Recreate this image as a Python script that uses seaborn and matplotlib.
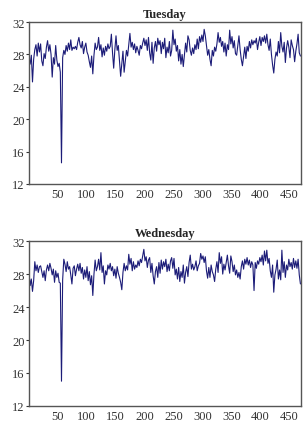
import numpy as np
import matplotlib
matplotlib.use("Agg")
import matplotlib.pyplot as plt
import seaborn as sns

obs_start = 1
obs_step = 2

tuesday = [
    27.6, 26.8, 27.9, 24.6, 27.4, 28.6, 29.2, 27.8, 29.4, 28.3,
    29.3, 27.2, 26.6, 28.1, 27.5, 28.9, 29.7, 28.4, 29.2, 28.0,
    25.2, 27.6, 26.8, 29.1, 27.3, 26.5, 26.9, 25.8, 14.6, 27.6,
    28.5, 28.0, 29.1, 28.4, 29.4, 28.6, 29.8, 28.5, 28.9, 28.7,
    29.0, 28.6, 29.5, 30.1, 29.2, 28.8, 29.6, 28.1, 28.9, 29.4,
    28.3, 27.9, 27.1, 26.4, 27.8, 25.6, 27.9, 29.4, 28.6, 28.9,
    30.1, 28.5, 29.2, 27.7, 28.8, 27.9, 29.0, 28.4, 29.3, 28.7,
    29.0, 30.5, 28.2, 26.3, 28.6, 30.3, 28.5, 29.1, 27.2, 25.3,
    26.9, 28.4, 25.8, 27.1, 28.5, 27.8, 29.2, 30.6, 28.9, 29.5,
    28.6, 29.3, 28.2, 29.0, 28.5, 27.9, 29.1, 28.7, 29.4, 30.0,
    29.1, 29.8, 28.5, 30.1, 28.2, 27.3, 29.5, 26.9, 28.8, 29.6,
    28.4, 30.0, 29.2, 29.7, 28.1, 29.5, 28.7, 30.0, 27.6, 28.9,
    28.2, 29.6, 27.8, 28.5, 31.0, 29.2, 29.9, 28.4, 29.1, 27.2,
    28.6, 26.8, 28.0, 26.5, 27.9, 29.4, 28.3, 30.3, 29.8, 28.5,
    27.9, 28.8, 28.1, 29.2, 28.6, 29.9, 28.7, 30.2, 29.5, 30.4,
    29.6, 31.1, 30.3, 29.1, 27.9, 28.6, 27.4, 26.6, 28.5, 27.8,
    28.9, 28.4, 29.3, 30.7, 29.5, 30.1, 29.0, 29.6, 28.3, 29.4,
    27.8, 29.2, 28.6, 31.0, 29.3, 30.2, 28.8, 29.7, 28.1, 27.9,
    29.1, 30.3, 28.6, 27.4, 26.6, 27.8, 28.9, 27.5, 29.0, 28.4,
    29.6, 28.8, 29.8, 29.2, 29.7, 29.4, 30.0, 28.6, 29.5, 30.2,
    29.1, 30.1, 29.6, 30.3, 29.4, 30.5, 29.2, 28.5, 29.9, 28.0,
    26.7, 25.7, 27.4, 28.3, 27.8, 29.6, 28.2, 30.7, 29.0, 28.3,
    29.5, 27.0, 28.8, 29.7, 28.9, 27.6, 29.8, 29.1, 28.6, 27.1,
    28.4, 29.3, 30.5, 28.2, 27.8,
]

wednesday = [
    28.1, 26.6, 27.4, 25.9, 27.2, 29.5, 28.4, 29.1, 28.2, 28.9,
    29.0, 28.3, 27.6, 28.4, 27.2, 28.5, 29.1, 28.4, 29.3, 28.7,
    27.9, 28.6, 27.0, 28.4, 27.6, 28.1, 27.0, 26.9, 15.0, 27.3,
    29.8, 29.2, 28.3, 29.5, 28.6, 28.9, 27.9, 26.8, 28.7, 29.0,
    27.8, 28.6, 29.2, 28.4, 29.3, 28.1, 28.8, 27.4, 28.5, 27.6,
    28.9, 27.2, 28.3, 26.7, 27.8, 25.4, 28.0, 29.7, 28.4, 28.9,
    29.8, 28.5, 30.6, 28.2, 29.0, 26.8, 28.4, 27.9, 29.1, 28.6,
    29.3, 28.4, 28.9, 27.8, 28.6, 27.5, 28.9, 28.1, 27.6, 27.0,
    26.1, 28.2, 29.3, 28.4, 29.0, 28.5, 30.4, 29.2, 29.9, 28.4,
    29.5, 28.6, 29.1, 28.8, 29.6, 29.0, 29.8, 29.4, 30.2, 31.0,
    29.6, 30.1, 28.8, 29.7, 30.0, 28.2, 29.3, 27.8, 26.8, 28.3,
    28.9, 27.6, 29.4, 28.1, 29.7, 28.6, 29.5, 28.9, 29.8, 28.3,
    29.2, 28.4, 29.6, 30.0, 28.7, 29.9, 27.9, 28.6, 27.4, 28.8,
    27.1, 28.3, 27.6, 29.1, 26.9, 28.2, 28.9, 27.7, 29.4, 30.3,
    28.6, 29.2, 28.5, 28.9, 29.6, 28.4, 29.0, 29.3, 30.5, 29.8,
    30.2, 29.4, 30.1, 28.4, 27.5, 28.8, 27.6, 29.1, 28.3, 27.9,
    27.1, 28.6, 29.5, 28.2, 30.6, 29.3, 30.1, 28.0, 29.2, 28.5,
    29.4, 30.3, 29.0, 28.1, 30.2, 29.5, 28.3, 29.1, 27.9, 28.5,
    27.6, 28.2, 27.4, 28.9, 29.6, 28.6, 29.8, 29.2, 30.0, 29.1,
    29.7, 28.8, 29.5, 29.1, 26.0, 29.4, 28.7, 29.6, 29.2, 30.0,
    29.5, 30.3, 29.1, 30.8, 29.6, 30.9, 29.3, 29.9, 28.4, 27.6,
    29.1, 25.8, 27.9, 28.6, 29.7, 27.4, 28.5, 27.3, 30.9, 28.2,
    29.5, 27.6, 29.1, 28.5, 29.8, 28.9, 29.4, 28.6, 29.9, 28.8,
    29.6, 28.7, 29.8, 27.9, 26.8,
]

titles = ["Tuesday", "Wednesday"]
y_ticks = [12, 16, 20, 24, 28, 32]
x_ticks = [50, 100, 150, 200, 250, 300, 350, 400, 450]

sns.set_style("ticks")
plt.rcParams["font.family"] = ["Liberation Serif", "DejaVu Serif"]

fig = plt.figure(figsize=(3.07, 4.27), dpi=100)
ax_top = fig.add_axes([0.0945, 0.567, 0.886, 0.379])
ax_bot = fig.add_axes([0.0945, 0.047, 0.886, 0.386])

for ax, vals, title in zip([ax_top, ax_bot], [tuesday, wednesday], titles):
    obs = obs_start + obs_step * np.arange(len(vals))
    sns.lineplot(x=obs, y=vals, ax=ax, color="#1c1c78", linewidth=0.8)
    ax.set_xlim(1, 470)
    ax.set_ylim(12, 32)
    ax.set_yticks(y_ticks)
    ax.set_xticks(x_ticks)
    ax.set_title(title, fontsize=9, fontweight="bold", pad=4)
    ax.tick_params(axis="y", length=2, width=0.8, labelsize=9, pad=1, colors="#333333")
    ax.tick_params(axis="x", length=0, labelsize=9, pad=3, colors="#333333")
    for s in ax.spines.values():
        s.set_color("#555555")
        s.set_linewidth(1.0)

fig.savefig("out.png", dpi=100)
